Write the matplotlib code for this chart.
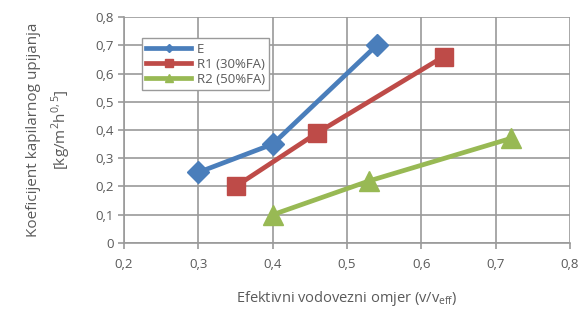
import matplotlib
matplotlib.use("Agg")
import matplotlib.pyplot as plt
from matplotlib.ticker import FuncFormatter

plt.rcParams["font.family"] = ["Open Sans", "DejaVu Sans"]

# water/binder ratio and capillary absorption coefficient per mix
e_x = [0.30, 0.40, 0.54]
e_y = [0.25, 0.35, 0.70]
r1_x = [0.35, 0.46, 0.63]
r1_y = [0.20, 0.39, 0.66]
r2_x = [0.40, 0.53, 0.72]
r2_y = [0.10, 0.22, 0.37]
labels = ["E", "R1 (30%FA)", "R2 (50%FA)"]

text_color = "#5a5a5a"
grid_color = "#9a9a9a"

fig = plt.figure(figsize=(5.8, 3.15), dpi=100)
ax = fig.add_axes([0.2138, 0.2286, 0.769, 0.7174])

ax.plot(e_x, e_y, color="#4a7ebb", lw=3.4, marker="D", ms=11, label=labels[0])
ax.plot(r1_x, r1_y, color="#be4b48", lw=3.4, marker="s", ms=13, label=labels[1])
ax.plot(r2_x, r2_y, color="#98b954", lw=3.4, marker="^", ms=14, label=labels[2])

ax.set_xlim(0.2, 0.8)
ax.set_ylim(0, 0.8)
ax.set_xticks([0.2, 0.3, 0.4, 0.5, 0.6, 0.7, 0.8])
ax.set_yticks([0, 0.1, 0.2, 0.3, 0.4, 0.5, 0.6, 0.7, 0.8])
fmt = FuncFormatter(lambda v, p: "0" if abs(v) < 1e-9 else f"{v:.1f}".replace(".", ","))
ax.xaxis.set_major_formatter(fmt)
ax.yaxis.set_major_formatter(fmt)

ax.grid(True, color=grid_color, lw=1.2)
ax.set_axisbelow(True)
for side in ["top", "right"]:
    ax.spines[side].set_visible(False)
for side in ["left", "bottom"]:
    ax.spines[side].set_color(grid_color)
    ax.spines[side].set_linewidth(1.2)
ax.tick_params(colors=grid_color, labelcolor=text_color, labelsize=9.5, length=4, width=1.2)
ax.tick_params(axis="x", pad=7)

ax.set_xlabel(r"Efektivni vodovezni omjer (v/v$_{\mathregular{eff}}$)",
              color=text_color, fontsize=10.5, labelpad=13)
ax.set_ylabel("Koeficijent kapilarnog upijanja\n"
              r"[kg/m$^{\mathregular{2}}$h$^{\mathregular{0,5}}$]",
              color=text_color, fontsize=11, labelpad=16, linespacing=1.5)

leg = ax.legend(loc="upper left", bbox_to_anchor=(0.025, 0.935), fontsize=9.5,
                markerscale=0.4, handlelength=3.4, borderpad=0.35, labelspacing=0.15,
                handletextpad=0.4, fancybox=False, framealpha=1)
leg.get_frame().set_edgecolor(grid_color)
for t in leg.get_texts():
    t.set_color(text_color)

fig.savefig("out.png", dpi=100)
